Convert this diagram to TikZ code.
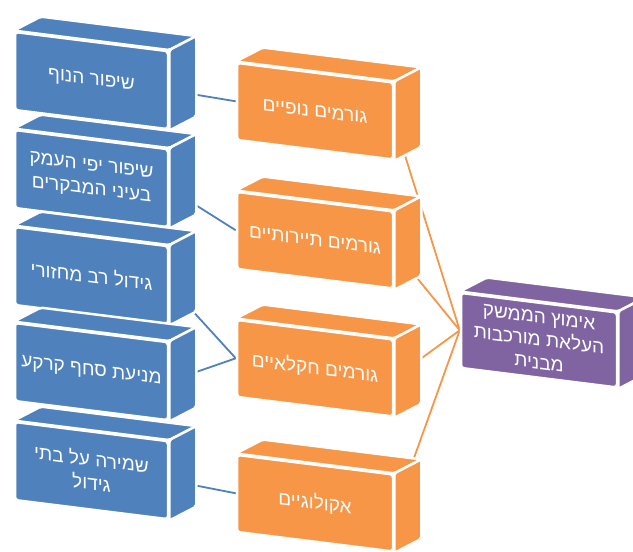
\documentclass[tikz,border=0pt]{standalone}
\usepackage{fontspec}
\newfontfamily\hebfont[Script=Hebrew]{Liberation Sans}
\TeXXeTstate=1
\usetikzlibrary{backgrounds}
\definecolor{boxblue}{HTML}{4F81BD}
\definecolor{boxorange}{HTML}{F79646}
\definecolor{boxpurple}{HTML}{8064A2}
\newcommand{\heb}[1]{\beginR #1\endR}
\begin{document}
\begin{tikzpicture}[x=1pt, y=1pt, line join=round, line cap=round,
	face/.style={draw=white, line width=2.5pt, rounded corners=3pt, yslant=-0.125, minimum width=153pt, minimum height=78pt, inner sep=0pt, text=white, align=center, font=\hebfont\fontsize{19}{24}\selectfont},
	wide/.style={minimum width=156pt, minimum height=77pt},
	depth/.style={draw=white, line width=2.5pt, rounded corners=2pt},
	link/.style={line width=1.8pt}]
	\useasboundingbox (0,0) rectangle (633,-552);
	% left column
	\node[face, fill=boxblue] (b1) at (91.5,-80.6) {\heb{שיפור הנוף}};
	\node[face, fill=boxblue] (b2) at (91.5,-178.6) {\heb{שיפור יפי העמק}\\\heb{בעיני המבקרים}};
	\node[face, fill=boxblue] (b3) at (91.5,-275.6) {\heb{גידול רב מחזורי}};
	\node[face, fill=boxblue] (b4) at (91.5,-371.6) {\heb{מניעת סחף קרקע}};
	\node[face, fill=boxblue] (b5) at (91.5,-470.6) {\heb{שמירה על בתי}\\\heb{גידול}};
	% middle column
	\node[face, wide, fill=boxorange] (o1) at (315,-111.2) {\heb{גורמים נופיים}};
	\node[face, wide, fill=boxorange] (o2) at (315,-240.2) {\heb{גורמים תיירותיים}};
	\node[face, wide, fill=boxorange] (o3) at (315,-368.2) {\heb{גורמים חקלאיים}};
	\node[face, wide, fill=boxorange] (o4) at (315,-503.2) {\heb{אקולוגיים}};
	% right
	\node[face, wide, minimum height=75pt, fill=boxpurple, font=\hebfont\fontsize{19}{23}\selectfont] (p) at (539,-340.2) {\heb{אימוץ הממשק}\\\heb{העלאת מורכבות}\\\heb{מבנית}};
	\foreach \n/\c in {b1/boxblue,b2/boxblue,b3/boxblue,b4/boxblue,b5/boxblue,o1/boxorange,o2/boxorange,o3/boxorange,o4/boxorange,p/boxpurple}{
		\filldraw[depth, fill=\c] (\n.north west) -- ([shift={(27,14)}]\n.north west) -- ([shift={(27,14)}]\n.north east) -- (\n.north east) -- cycle;
		\filldraw[depth, fill=\c] (\n.north east) -- ([shift={(27,14)}]\n.north east) -- ([shift={(27,14)}]\n.south east) -- (\n.south east) -- cycle;
	}
	\begin{scope}[on background layer]
		\draw[link, boxblue] (b1.east) -- (o1.west) (b2.east) -- (o2.west) (b3.east) -- (o3.west) (b4.east) -- (o3.west) (b5.east) -- (o4.west);
		\draw[link, boxorange] (o1.east) -- (p.west) (o2.east) -- (p.west) (o3.east) -- (p.west) (o4.east) -- (p.west);
	\end{scope}
\end{tikzpicture}
\end{document}
